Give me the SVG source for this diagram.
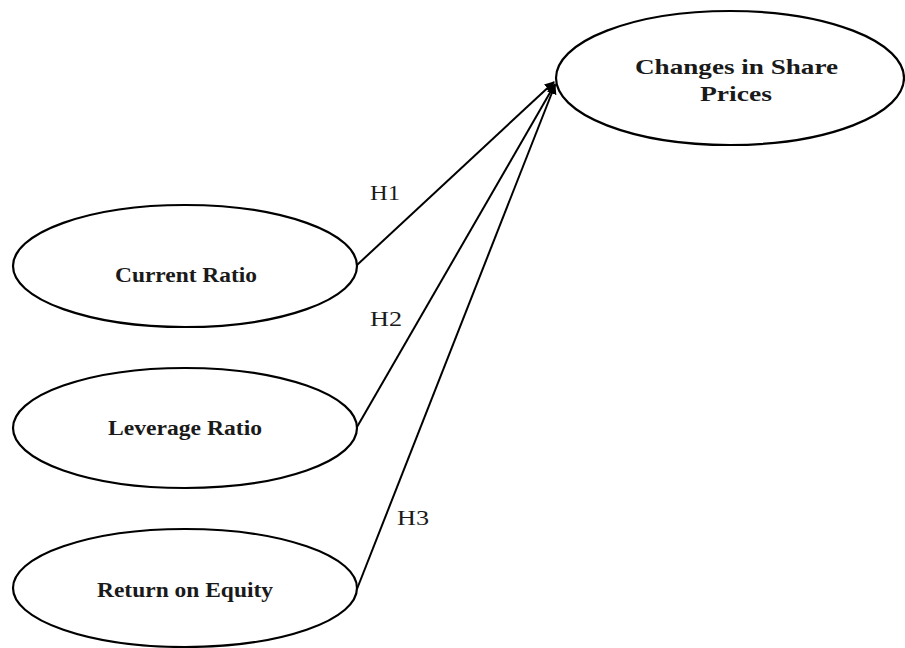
<svg xmlns="http://www.w3.org/2000/svg" width="905" height="648" viewBox="0 0 905 648">
<style>
.node{fill:#fff;stroke:#000;stroke-width:2.2}
.lbl{font-family:"Liberation Serif","Times New Roman",serif;font-weight:bold;fill:#1a1a1a}
.h{font-family:"Liberation Serif","Times New Roman",serif;font-size:21px;fill:#1a1a1a}
.edge{stroke:#000;stroke-width:2;fill:none;marker-end:url(#arr)}
</style>
<defs>
<marker id="arr" viewBox="0 0 10 10" refX="9" refY="5" markerWidth="5" markerHeight="5" orient="auto" markerUnits="strokeWidth">
<path d="M0,0 L10,5 L0,10 z" fill="#000"/>
</marker>
</defs>
<rect width="905" height="648" fill="#fff"/>
<g id="connectors">
<line class="edge" x1="357" y1="265" x2="554" y2="82"/>
<line class="edge" x1="357" y1="427" x2="555" y2="84"/>
<line class="edge" x1="357" y1="589" x2="555" y2="85"/>
</g>
<g id="changes">
<ellipse class="node" cx="730" cy="78" rx="174" ry="67"/>
<text class="lbl" x="635" y="74" font-size="21" textLength="203" lengthAdjust="spacingAndGlyphs">Changes in Share</text>
<text class="lbl" x="700" y="101" font-size="21" textLength="72" lengthAdjust="spacingAndGlyphs">Prices</text>
</g>
<g id="current">
<ellipse class="node" cx="185" cy="266" rx="172" ry="61"/>
<text class="lbl" x="115" y="282" font-size="20" textLength="142" lengthAdjust="spacingAndGlyphs">Current Ratio</text>
</g>
<g id="leverage">
<ellipse class="node" cx="185" cy="428" rx="172" ry="60"/>
<text class="lbl" x="108" y="435" font-size="20" textLength="154" lengthAdjust="spacingAndGlyphs">Leverage Ratio</text>
</g>
<g id="roe">
<ellipse class="node" cx="185" cy="588" rx="172" ry="59"/>
<text class="lbl" x="97" y="597" font-size="20" textLength="176" lengthAdjust="spacingAndGlyphs">Return on Equity</text>
</g>
<text class="h" x="370" y="200" textLength="30" lengthAdjust="spacingAndGlyphs">H1</text>
<text class="h" x="370" y="326" textLength="32" lengthAdjust="spacingAndGlyphs">H2</text>
<text class="h" x="397" y="525" textLength="32" lengthAdjust="spacingAndGlyphs">H3</text>
</svg>
